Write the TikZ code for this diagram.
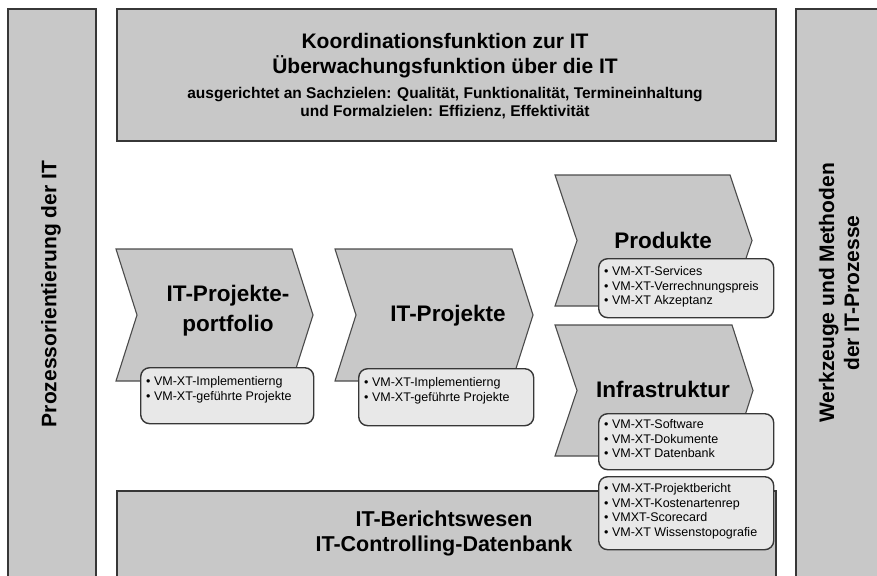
\documentclass[tikz,border=0pt]{standalone}
\usepackage{fontspec}
\setmainfont{Liberation Sans}
\definecolor{panelgray}{RGB}{200,200,200}
\definecolor{listgray}{RGB}{232,232,232}
\definecolor{edge}{RGB}{55,55,55}
\definecolor{chevedge}{RGB}{75,75,75}
\begin{document}
\begin{tikzpicture}[x=1pt,y=-1pt,
  panel/.style={draw=edge, line width=1.6pt, fill=panelgray, anchor=north west, inner sep=0pt},
  chev/.style={draw=chevedge, line width=1.1pt, fill=panelgray, line join=miter},
  listbox/.style={draw=edge, line width=1.4pt, fill=listgray, rounded corners=9pt,
    anchor=north west, inner sep=0pt},
  bigtxt/.style={font=\bfseries\fontsize{21}{25}\selectfont, align=center, inner sep=0pt},
  chevtxt/.style={font=\bfseries\fontsize{22.5}{30}\selectfont, align=center, inner sep=0pt},
  smalltxt/.style={font=\bfseries\fontsize{15.5}{18}\selectfont, align=center, inner sep=0pt},
  listtxt/.style={font=\fontsize{12.5}{14.8}\selectfont, align=left, anchor=north west, inner sep=0pt},
]
\useasboundingbox (0,0) rectangle (877,575);
\clip (0,0) rectangle (877,575);

% side bars
\node[panel, minimum width=88pt, minimum height=580pt] (lbar) at (7,8) {};
\node[panel, minimum width=95pt, minimum height=580pt] (rbar) at (795,8) {};
\node[bigtxt, rotate=90] (ltext) at (51,294) {Prozessorientierung der IT};
\node[bigtxt, rotate=90] (rtext) at (839,293) {Werkzeuge und Methoden\\der IT-Prozesse};

% top panel
\node[panel, minimum width=659pt, minimum height=132pt] (top) at (116,8) {};
\node[bigtxt] (toptitle) at (445,56) {Koordinationsfunktion zur IT\\Überwachungsfunktion über die IT};
\node[smalltxt] (topsub) at (445,103) {ausgerichtet an Sachzielen: Qualität, Funktionalität, Termineinhaltung\\und Formalzielen: Effizienz, Effektivität};

% process chevrons
\draw[chev] (116,249) -- (292,249) -- (313,315) -- (292,381) -- (116,381) -- (137,315) -- cycle;
\draw[chev] (335,249) -- (512,249) -- (533,315) -- (512,381) -- (335,381) -- (356,315) -- cycle;
\draw[chev] (555,175) -- (730,175) -- (752,240.5) -- (730,306) -- (555,306) -- (577,240.5) -- cycle;
\draw[chev] (555,325) -- (732,325) -- (753,390.5) -- (732,456) -- (555,456) -- (577,390.5) -- cycle;

\node[chevtxt] (c1) at (228,311) {IT-Projekte-\\portfolio};
\node[chevtxt] (c2) at (448,316) {IT-Projekte};
\node[chevtxt] (c3) at (663,240) {Produkte};
\node[chevtxt] (c4) at (663,389) {Infrastruktur};

% item lists
\node[listbox, minimum width=173pt, minimum height=56pt] (l1) at (140,367) {};
\node[listtxt] (l1t) at ([shift={(6,9)}]l1.north west) {• VM-XT-Implementierng\\• VM-XT-geführte Projekte};
\node[listbox, minimum width=175pt, minimum height=57pt] (l2) at (358,368) {};
\node[listtxt] (l2t) at ([shift={(6,9)}]l2.north west) {• VM-XT-Implementierng\\• VM-XT-geführte Projekte};
\node[listbox, minimum width=175pt, minimum height=59pt] (l3) at (598,258) {};
\node[listtxt] (l3t) at ([shift={(6,8)}]l3.north west) {• VM-XT-Services\\• VM-XT-Verrechnungspreis\\• VM-XT Akzeptanz};
\node[listbox, minimum width=175pt, minimum height=56pt] (l4) at (598,413) {};
\node[listtxt] (l4t) at ([shift={(6,6)}]l4.north west) {• VM-XT-Software\\• VM-XT-Dokumente\\• VM-XT Datenbank};

% bottom panel
\node[panel, minimum width=659pt, minimum height=95pt] (bottom) at (116,490) {};
\node[bigtxt, font=\bfseries\fontsize{21.5}{25}\selectfont] (bottomtext) at (444,533) {IT-Berichtswesen\\IT-Controlling-Datenbank};

\node[listbox, minimum width=175pt, minimum height=73pt] (l5) at (598,476) {};
\node[listtxt] (l5t) at ([shift={(6,7)}]l5.north west) {• VM-XT-Projektbericht\\• VM-XT-Kostenartenrep\\• VMXT-Scorecard\\• VM-XT Wissenstopografie};
\end{tikzpicture}
\end{document}
